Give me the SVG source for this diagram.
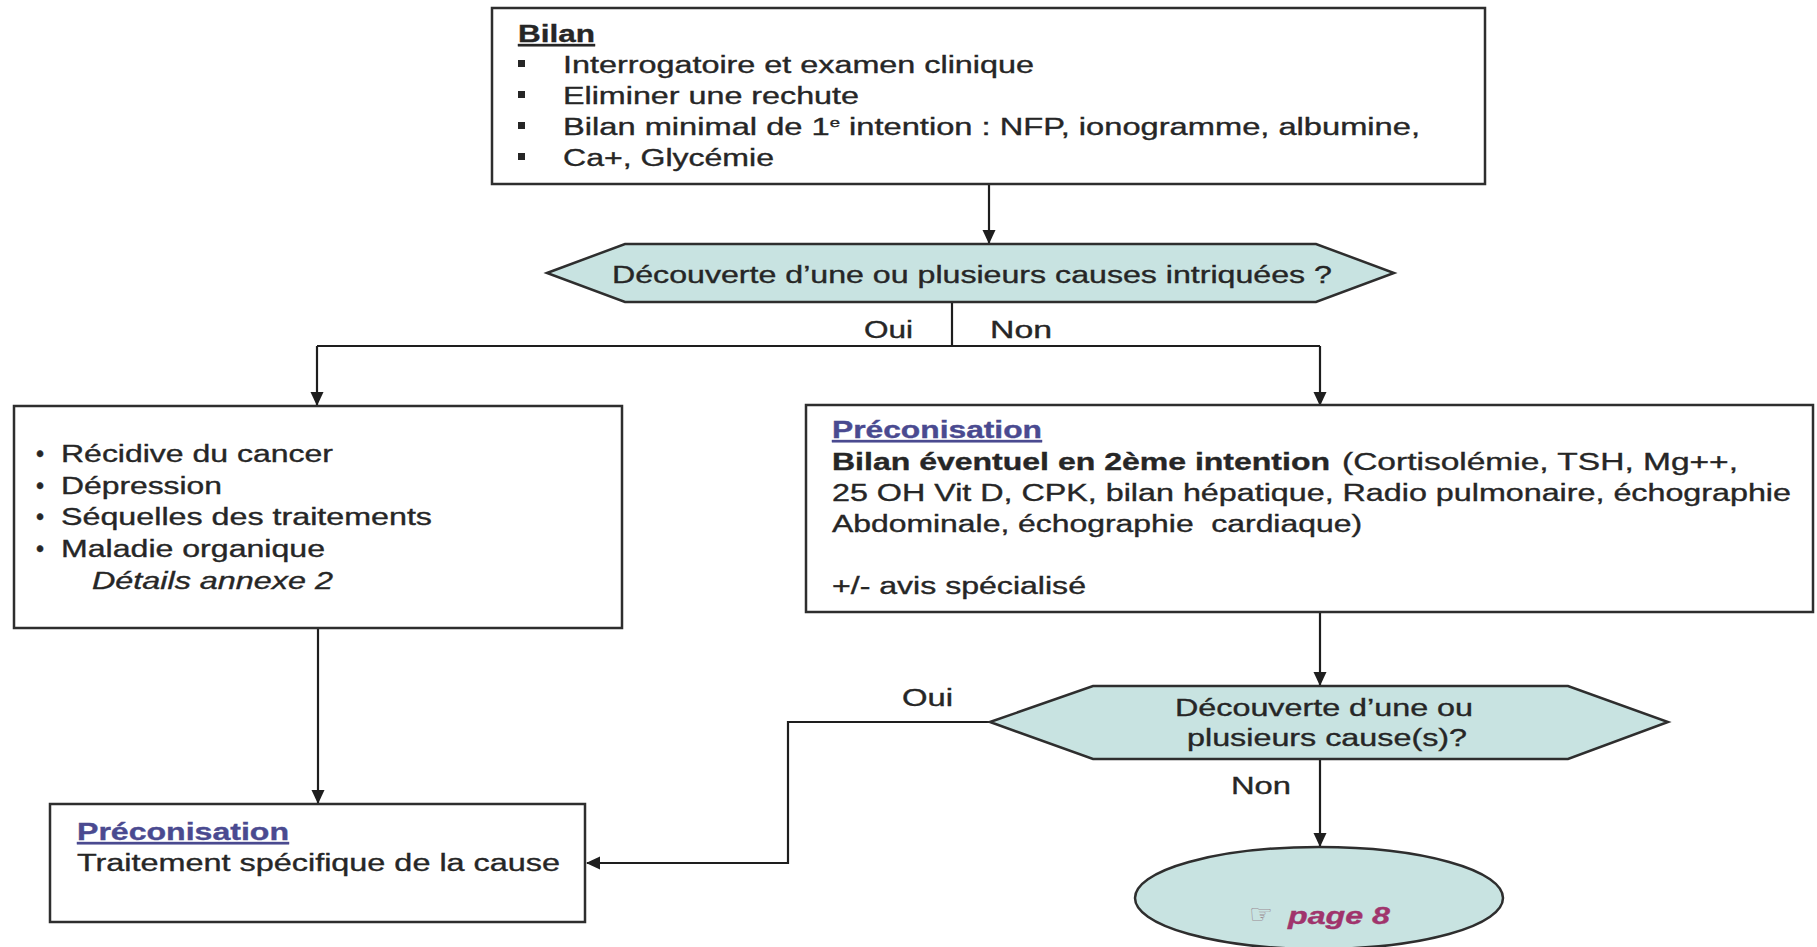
<svg xmlns="http://www.w3.org/2000/svg" width="1817" height="947" viewBox="0 0 1817 947">
<style>
  .box { fill: #ffffff; stroke: #2e2e2e; stroke-width: 2.5; }
  .hex { fill: #c8e3e1; stroke: #2e2e2e; stroke-width: 2.5; }
  .t { font-family: "Liberation Sans", Arial, sans-serif; font-size: 23px; fill: #262626; stroke: #262626; stroke-width: 0.35; }
  .b { font-weight: bold; }
  .i { font-style: italic; }
  .u { text-decoration: underline; }
  .blue { fill: #4a4a90; stroke: #4a4a90; }
  .page { fill: #a0346c; stroke: #a0346c; font-weight: bold; font-style: italic; }
  .conn { fill: none; stroke: #1e1e1e; stroke-width: 2.2; }
</style>
<defs>
  <marker id="arr" viewBox="0 0 14 14" refX="13" refY="7" markerWidth="14" markerHeight="14" markerUnits="userSpaceOnUse" orient="auto">
    <path d="M0 0.5 L14 7 L0 13.5 Z" fill="#1e1e1e"/>
  </marker>
</defs>
<rect width="1817" height="947" fill="#ffffff"/>

<g id="connectors">
  <path class="conn" d="M989 185 V243" marker-end="url(#arr)"/>
  <path class="conn" d="M952 302 V346"/>
  <path class="conn" d="M317 346 H1320"/>
  <path class="conn" d="M317 346 V405" marker-end="url(#arr)"/>
  <path class="conn" d="M1320 346 V405" marker-end="url(#arr)"/>
  <path class="conn" d="M318 628 V803" marker-end="url(#arr)"/>
  <path class="conn" d="M1320 612 V685" marker-end="url(#arr)"/>
  <path class="conn" d="M1320 759 V846" marker-end="url(#arr)"/>
  <path class="conn" d="M990 722 H788 V863 H587" marker-end="url(#arr)"/>
  <text class="t" x="864" y="338" textLength="49" lengthAdjust="spacingAndGlyphs">Oui</text>
  <text class="t" x="990" y="338" textLength="62" lengthAdjust="spacingAndGlyphs">Non</text>
  <text class="t" x="902" y="706" textLength="51" lengthAdjust="spacingAndGlyphs">Oui</text>
  <text class="t" x="1231" y="794" textLength="60" lengthAdjust="spacingAndGlyphs">Non</text>
</g>

<g id="bilan">
  <rect class="box" x="492" y="8" width="993" height="176"/>
  <text class="t b u" x="518" y="42" textLength="77" lengthAdjust="spacingAndGlyphs">Bilan</text>
  <rect x="518" y="60" width="7" height="7" fill="#262626"/>
  <rect x="518" y="91" width="7" height="7" fill="#262626"/>
  <rect x="518" y="122" width="7" height="7" fill="#262626"/>
  <rect x="518" y="153" width="7" height="7" fill="#262626"/>
  <text class="t" x="563" y="73" textLength="471" lengthAdjust="spacingAndGlyphs">Interrogatoire et examen clinique</text>
  <text class="t" x="563" y="104" textLength="296" lengthAdjust="spacingAndGlyphs">Eliminer une rechute</text>
  <text class="t" x="563" y="135" textLength="857" lengthAdjust="spacingAndGlyphs">Bilan minimal de 1<tspan dy="-8" font-size="13">e</tspan><tspan dy="8"> intention : NFP, ionogramme, albumine,</tspan></text>
  <text class="t" x="563" y="166" textLength="211" lengthAdjust="spacingAndGlyphs">Ca+, Glycémie</text>
</g>

<g id="decision1">
  <polygon class="hex" points="547,273 625,244 1316,244 1394,273 1316,302 625,302"/>
  <text class="t" x="612" y="283" textLength="720" lengthAdjust="spacingAndGlyphs">Découverte d’une ou plusieurs causes intriquées ?</text>
</g>

<g id="causes">
  <rect class="box" x="14" y="406" width="608" height="222"/>
  <text class="t" x="36" y="462">•</text>
  <text class="t" x="36" y="494">•</text>
  <text class="t" x="36" y="525">•</text>
  <text class="t" x="36" y="557">•</text>
  <text class="t" x="61" y="462" textLength="272" lengthAdjust="spacingAndGlyphs">Récidive du cancer</text>
  <text class="t" x="61" y="494" textLength="161" lengthAdjust="spacingAndGlyphs">Dépression</text>
  <text class="t" x="61" y="525" textLength="371" lengthAdjust="spacingAndGlyphs">Séquelles des traitements</text>
  <text class="t" x="61" y="557" textLength="264" lengthAdjust="spacingAndGlyphs">Maladie organique</text>
  <text class="t i" x="92" y="589" textLength="241" lengthAdjust="spacingAndGlyphs">Détails annexe 2</text>
</g>

<g id="preconisation2">
  <rect class="box" x="806" y="405" width="1007" height="207"/>
  <text class="t b u blue" x="832" y="438" textLength="210" lengthAdjust="spacingAndGlyphs">Préconisation</text>
  <text class="t b" x="832" y="470" textLength="498" lengthAdjust="spacingAndGlyphs">Bilan éventuel en 2ème intention</text>
  <text class="t" x="1342" y="470" textLength="396" lengthAdjust="spacingAndGlyphs">(Cortisolémie, TSH, Mg++,</text>
  <text class="t" x="832" y="501" textLength="959" lengthAdjust="spacingAndGlyphs">25 OH Vit D, CPK, bilan hépatique, Radio pulmonaire, échographie</text>
  <text class="t" x="832" y="532" textLength="530" lengthAdjust="spacingAndGlyphs">Abdominale, échographie&#160; cardiaque)</text>
  <text class="t" x="832" y="594" textLength="254" lengthAdjust="spacingAndGlyphs">+/- avis spécialisé</text>
</g>

<g id="decision2">
  <polygon class="hex" points="990,722 1093,686 1568,686 1668,722 1568,759 1093,759"/>
  <text class="t" x="1175" y="716" textLength="298" lengthAdjust="spacingAndGlyphs">Découverte d’une ou</text>
  <text class="t" x="1187" y="746" textLength="280" lengthAdjust="spacingAndGlyphs">plusieurs cause(s)?</text>
</g>

<g id="traitement">
  <rect class="box" x="50" y="804" width="535" height="118"/>
  <text class="t b u blue" x="77" y="840" textLength="212" lengthAdjust="spacingAndGlyphs">Préconisation</text>
  <text class="t" x="77" y="871" textLength="483" lengthAdjust="spacingAndGlyphs">Traitement spécifique de la cause</text>
</g>

<g id="page8">
  <ellipse class="hex" cx="1319" cy="898" rx="184" ry="51"/>
  <text x="1249" y="923" font-family="DejaVu Sans, sans-serif" font-size="26" fill="#9a8d94" textLength="24" lengthAdjust="spacingAndGlyphs">☞</text>
  <text class="t page" x="1288" y="924" textLength="102" lengthAdjust="spacingAndGlyphs">page 8</text>
</g>
</svg>
